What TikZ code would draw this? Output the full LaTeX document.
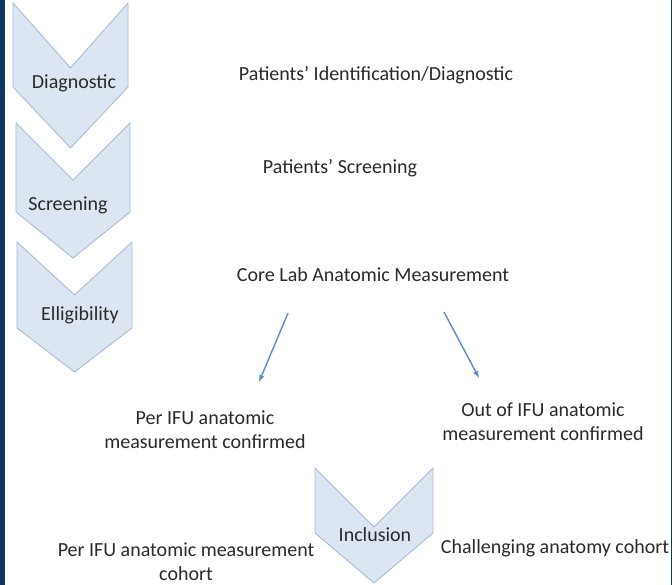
\documentclass[tikz,border=0pt]{standalone}
\usepackage{fontspec}
\setmainfont{Carlito}
\usetikzlibrary{arrows}
\definecolor{chevfill}{HTML}{DCE6F2}
\definecolor{chevline}{HTML}{A9BCD6}
\definecolor{txtgray}{HTML}{2A2A2A}
\definecolor{flowblue}{HTML}{5A8AD0}
\definecolor{navy}{HTML}{0E3564}

\begin{document}
\begin{tikzpicture}[x=1pt, y=-1pt,
    chev/.style = {draw=chevline, fill=chevfill, line width=0.9pt},
    txt/.style = {font=\fontsize{20}{24}\selectfont, text=txtgray,
        align=center, inner sep=0pt},
    flow/.style = {draw=flowblue, line width=1.4pt, -latex}]
\useasboundingbox (0,0) rectangle (672,585);
\fill[white] (0,0) rectangle (672,585);
\fill[navy] (0,0) rectangle (5,585);
\fill[navy] (671,0) rectangle (672,585);
% the phases on the left
\foreach \x/\y/\w/\d/\h/\t in {13/3/115/65/84/61, 16/123/114/57/89/46,
    17/242/115/53/86/44, 315/468/118/59/65/50}
  \draw[chev] (\x,\y) -- ++(\w/2,\d) -- ++(\w/2,-\d) -- ++(0,\h)
    -- ++(-\w/2,\t) -- ++(-\w/2,-\t) -- cycle;
\node[txt] (diag)   at (74,83)   {Diagnostic};
\node[txt] (screen) at (68,205)  {Screening};
\node[txt] (elig)   at (80,315)  {Elligibility};
\node[txt] (incl)   at (375,535) {Inclusion};
% the steps
\node[txt] (ident)  at (376,75)  {Patients’ Identification/Diagnostic};
\node[txt] (scr)    at (340,168) {Patients’ Screening};
\node[txt] (core)   at (373,275) {Core Lab Anatomic Measurement};
\node[txt] (perifu) at (205,430) {Per IFU anatomic\\measurement confirmed};
\node[txt] (outifu) at (543,422) {Out of IFU anatomic\\measurement confirmed};
\node[txt] (percoh) at (186,562) {Per IFU anatomic measurement\\cohort};
\node[txt] (chall)  at (555,548) {Challenging anatomy cohort};
% arrows
\coordinate (l0) at (288,313);
\coordinate (l1) at (259,382);
\coordinate (r0) at (444,312);
\coordinate (r1) at (479,378);
\draw[flow] (l0) -- (l1);
\draw[flow] (r0) -- (r1);
\end{tikzpicture}
\end{document}
